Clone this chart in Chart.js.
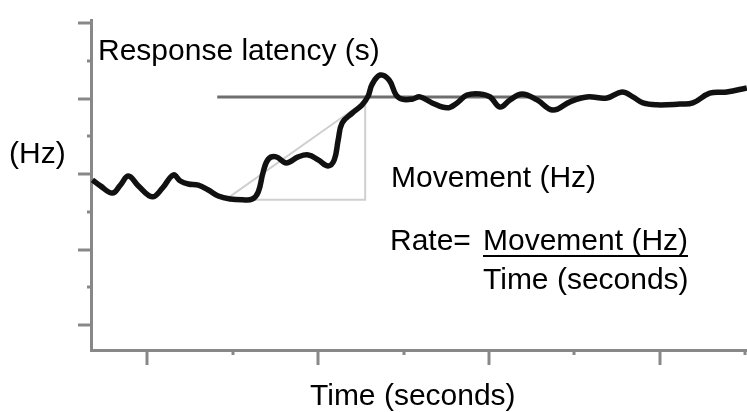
<!DOCTYPE html>
<html>
<head>
<meta charset="utf-8">
<script src="https://cdn.jsdelivr.net/npm/chart.js@4.4.1/dist/chart.umd.min.js"></script>
<style>
  html, body { margin: 0; padding: 0; background: #fff; }
  #wrap { width: 747px; height: 412px; }
</style>
</head>
<body>
<div id="wrap"><canvas id="latencyChart" width="747" height="412"></canvas></div>
<script>
// firing rate trace (x in seconds, y in Hz units)
var traceX = [-0.322, -0.275, -0.205, -0.158, -0.111, -0.053, 0.029, 0.088, 0.152, 0.193,
	0.240, 0.298, 0.357, 0.415, 0.485, 0.556, 0.614, 0.649, 0.678, 0.708,
	0.754, 0.813, 0.883, 0.942, 1.000, 1.058, 1.094, 1.117, 1.140, 1.199,
	1.257, 1.292, 1.316, 1.363, 1.415, 1.456, 1.491, 1.550, 1.596, 1.667,
	1.754, 1.813, 1.871, 1.947, 2.006, 2.064, 2.123, 2.193, 2.281, 2.374,
	2.474, 2.573, 2.690, 2.778, 2.842, 2.901, 2.982, 3.117, 3.193, 3.292,
	3.392, 3.509];
var traceY = [3.85, 3.69, 3.50, 3.71, 3.95, 3.69, 3.40, 3.63, 3.98, 3.82,
	3.74, 3.71, 3.58, 3.42, 3.34, 3.32, 3.34, 3.53, 4.06, 4.40,
	4.46, 4.30, 4.46, 4.51, 4.38, 4.22, 4.38, 4.91, 5.36, 5.62,
	5.84, 6.07, 6.39, 6.63, 6.50, 6.10, 5.99, 5.99, 6.05, 5.89,
	5.76, 5.89, 6.10, 6.13, 6.05, 5.78, 5.97, 6.13, 5.97, 5.70,
	5.92, 6.05, 6.02, 6.18, 6.05, 5.89, 5.84, 5.86, 5.89, 6.15,
	6.18, 6.29];

// plateau level line
var plateauX = [0.409, 2.649];
var plateauY = [6.05, 6.05];

// rise triangle: onset -> peak -> back down
var riseX = [0.462, 1.275, 1.275, 0.462];
var riseY = [3.34, 5.94, 3.32, 3.32];

// axis tick positions
var xTicks = [0, 0.5, 1, 1.5, 2, 2.5, 3, 3.5];
var yTicks = [0, 1, 2, 3, 4, 5, 6, 7, 8];

function toPoints(xs, ys) {
	return xs.map(function (x, i) { return { x: x, y: ys[i] }; });
}

var axisColor = '#888';
var labelFont = '30px "Liberation Sans", Arial, sans-serif';

// tick marks + text labels drawn over the chart
var decoPlugin = {
	id: 'deco',
	afterDraw: function (chart) {
		var ctx = chart.ctx;
		var area = chart.chartArea;
		var xs = chart.scales.x;
		var ys = chart.scales.y;
		ctx.save();
		ctx.strokeStyle = axisColor;
		ctx.lineWidth = 3;
		xTicks.forEach(function (v) {
			var px = Math.round(xs.getPixelForValue(v));
			var len = (v % 1 === 0) ? 15 : 5;
			ctx.beginPath();
			ctx.moveTo(px, area.bottom);
			ctx.lineTo(px, area.bottom + len);
			ctx.stroke();
		});
		yTicks.forEach(function (v) {
			var py = Math.round(ys.getPixelForValue(v));
			var len = (v % 2 === 0) ? 13 : 4;
			ctx.beginPath();
			ctx.moveTo(area.left, py);
			ctx.lineTo(area.left - len, py);
			ctx.stroke();
		});

		ctx.fillStyle = '#000';
		ctx.font = labelFont;
		ctx.textBaseline = 'alphabetic';
		ctx.textAlign = 'left';
		ctx.fillText('Response latency (s)', 98, 60);
		ctx.fillText('(Hz)', 9, 163);
		ctx.fillText('Movement (Hz)', 391, 187);
		ctx.fillText('Rate=', 390, 250);
		ctx.fillText('Movement (Hz)', 483, 250);
		ctx.fillText('Time (seconds)', 483, 289);
		ctx.fillText('Time (seconds)', 310, 405);

		// fraction bar under the numerator
		var w = ctx.measureText('Movement (Hz)').width;
		ctx.strokeStyle = '#000';
		ctx.lineWidth = 2;
		ctx.beginPath();
		ctx.moveTo(483, 256);
		ctx.lineTo(483 + w, 256);
		ctx.stroke();
		ctx.restore();
	}
};

var ctx = document.getElementById('latencyChart').getContext('2d');
new Chart(ctx, {
	type: 'line',
	data: {
		datasets: [
			{
				data: toPoints(traceX, traceY),
				borderColor: '#111',
				borderWidth: 5.5,
				pointRadius: 0,
				tension: 0.4,
				order: 0
			},
			{
				data: toPoints(plateauX, plateauY),
				borderColor: '#6e6e6e',
				borderWidth: 3,
				pointRadius: 0,
				order: 1
			},
			{
				data: toPoints(riseX, riseY),
				borderColor: '#cfcfcf',
				borderWidth: 2,
				pointRadius: 0,
				order: 2
			}
		]
	},
	options: {
		responsive: false,
		animation: false,
		layout: {
			autoPadding: false,
			padding: { left: 91, top: 20, right: 0, bottom: 62 }
		},
		plugins: {
			legend: { display: false },
			tooltip: { enabled: false }
		},
		scales: {
			x: {
				type: 'linear',
				min: -0.33,
				max: 3.51,
				grid: { display: false, drawTicks: false },
				ticks: { display: false },
				border: { display: true, color: axisColor, width: 3 }
			},
			y: {
				type: 'linear',
				min: -0.663,
				max: 8.09,
				grid: { display: false, drawTicks: false },
				ticks: { display: false },
				border: { display: true, color: axisColor, width: 3 }
			}
		}
	},
	plugins: [decoPlugin]
});
</script>
</body>
</html>
